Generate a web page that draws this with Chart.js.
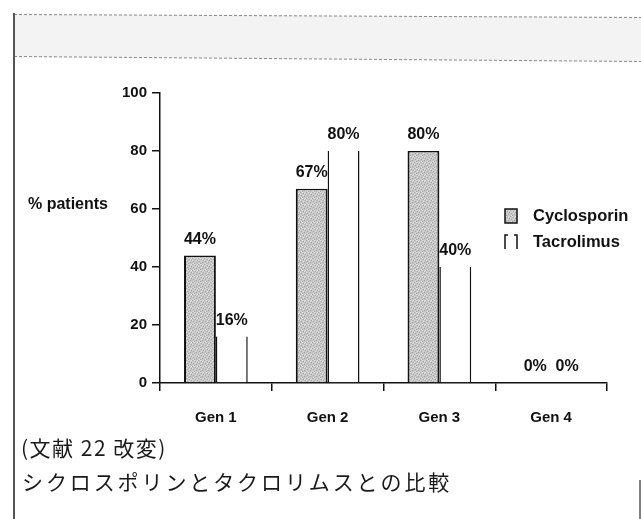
<!DOCTYPE html>
<html>
<head>
<meta charset="utf-8">
<script src="https://cdn.jsdelivr.net/npm/chart.js@4/dist/chart.umd.min.js"></script>
<style>
  html, body { margin: 0; padding: 0; background: #ffffff; }
  #wrap { width: 641px; height: 519px; position: relative; }
</style>
</head>
<body>
<div id="wrap"><canvas id="c" width="641" height="519"></canvas></div>
<script>
// ---- data ----
const categories = ['Gen 1', 'Gen 2', 'Gen 3', 'Gen 4'];
const cyclosporin = [44, 67, 80, 0];
const tacrolimus = [16, 80, 40, 0];
const seriesNames = ['Cyclosporin', 'Tacrolimus'];
const yTickValues = [0, 20, 40, 60, 80, 100];
const yAxisLabel = '% patients';
const sourceNote = '(文献 22 改変)';
const caption = 'シクロスポリンとタクロリムスとの比較';

const canvas = document.getElementById('c');
const ctx0 = canvas.getContext('2d');

// stippled grey fill like the scanned original
function makeStipple(ctx) {
  const c = document.createElement('canvas');
  c.width = 6; c.height = 6;
  const p = c.getContext('2d');
  p.fillStyle = '#c6c6c6';
  p.fillRect(0, 0, 6, 6);
  const dark = [[0,0],[3,1],[1,3],[4,4],[2,5],[5,2]];
  const light = [[2,0],[5,0],[0,2],[3,3],[1,5],[4,1]];
  p.fillStyle = '#a2a2a2';
  dark.forEach(([x, y]) => p.fillRect(x, y, 1, 1));
  p.fillStyle = '#e4e4e4';
  light.forEach(([x, y]) => p.fillRect(x, y, 1, 1));
  return ctx.createPattern(c, 'repeat');
}
const stipple = makeStipple(ctx0);

const FAM = "'Liberation Sans', Arial, Helvetica, sans-serif";
Chart.defaults.font.family = FAM;
Chart.defaults.color = '#111';

const INK = '#111';

const extras = {
  id: 'extras',
  beforeDraw(chart) {
    const ctx = chart.ctx;
    ctx.save();
    // header band (scanned, illegible)
    ctx.fillStyle = '#f3f3f3';
    ctx.beginPath();
    ctx.moveTo(14, 14); ctx.lineTo(641, 17); ctx.lineTo(641, 62); ctx.lineTo(14, 57);
    ctx.closePath(); ctx.fill();
    ctx.strokeStyle = '#8a8a8a';
    ctx.lineWidth = 1;
    ctx.setLineDash([3, 2]);
    ctx.beginPath(); ctx.moveTo(14, 14.5); ctx.lineTo(641, 17.5); ctx.stroke();
    ctx.beginPath(); ctx.moveTo(14, 56.5); ctx.lineTo(641, 61.5); ctx.stroke();
    ctx.setLineDash([]);
    // frame lines
    ctx.strokeStyle = '#555';
    ctx.lineWidth = 2;
    ctx.beginPath(); ctx.moveTo(14, 13); ctx.lineTo(14, 519); ctx.stroke();
    ctx.lineWidth = 1.5;
    ctx.beginPath(); ctx.moveTo(640, 480); ctx.lineTo(640, 519); ctx.stroke();
    ctx.restore();
  },
  afterDatasetsDraw(chart) {
    const ctx = chart.ctx;
    ctx.save();
    // value labels
    ctx.font = "bold 16px " + FAM;
    ctx.fillStyle = INK;
    ctx.textAlign = 'center';
    ctx.textBaseline = 'middle';
    chart.data.datasets.forEach((ds, di) => {
      const meta = chart.getDatasetMeta(di);
      meta.data.forEach((el, i) => {
        ctx.fillText(ds.data[i] + '%', el.x, el.y - 16);
      });
    });

    // y axis label
    ctx.textAlign = 'left';
    ctx.font = "bold 16px " + FAM;
    ctx.fillText(yAxisLabel, 28, 205);

    // legend
    const lx = 505, rows = [216, 242];
    chart.data.datasets.forEach((ds, di) => {
      const y = rows[di];
      if (di === 0) {
        ctx.fillStyle = stipple;
        ctx.fillRect(lx, y - 7, 12, 14);
        ctx.strokeStyle = INK; ctx.lineWidth = 1.5;
        ctx.strokeRect(lx, y - 7, 12, 14);
      } else {
        ctx.strokeStyle = INK; ctx.lineWidth = 1.5;
        ctx.beginPath();
        ctx.moveTo(lx + 3, y - 7); ctx.lineTo(lx, y - 7); ctx.lineTo(lx, y + 7);
        ctx.moveTo(lx + 9, y - 7); ctx.lineTo(lx + 12, y - 7); ctx.lineTo(lx + 12, y + 7);
        ctx.stroke();
      }
      ctx.fillStyle = INK;
      ctx.font = "bold 16.5px " + FAM;
      ctx.textAlign = 'left';
      ctx.textBaseline = 'middle';
      ctx.fillText(ds.label, 533, y);
    });

    // notes beneath
    ctx.font = "21px 'Noto Sans CJK JP', sans-serif";
    ctx.fillStyle = '#1a1a1a';
    ctx.textBaseline = 'middle';
    if ('letterSpacing' in ctx) ctx.letterSpacing = '1.5px';
    ctx.fillText(sourceNote, 21, 448);
    if ('letterSpacing' in ctx) ctx.letterSpacing = '2.9px';
    ctx.fillText(caption, 22, 482);
    ctx.restore();
  }
};

new Chart(canvas, {
  type: 'bar',
  data: {
    labels: categories,
    datasets: [
      {
        label: seriesNames[0],
        data: cyclosporin,
        backgroundColor: stipple,
        borderColor: INK,
        borderWidth: { left: 2, right: 2, top: 1.5, bottom: 0 },
        borderSkipped: false,
        categoryPercentage: 0.57,
        barPercentage: 1.0
      },
      {
        label: seriesNames[1],
        data: tacrolimus,
        backgroundColor: '#ffffff',
        borderColor: INK,
        borderWidth: { left: 1.5, right: 1.5, top: 0, bottom: 0 },
        borderSkipped: false,
        categoryPercentage: 0.57,
        barPercentage: 1.0
      }
    ]
  },
  options: {
    responsive: false,
    animation: false,
    events: [],
    layout: { padding: { left: 0, right: 34, top: 93, bottom: 0 } },
    plugins: { legend: { display: false }, tooltip: { enabled: false }, title: { display: false } },
    scales: {
      x: {
        afterFit(s) { s.height = 136; },
        grid: { display: true, drawOnChartArea: false, drawTicks: true, tickLength: 8, color: INK, lineWidth: 1.5, offset: true },
        border: { display: true, color: INK, width: 1.5 },
        ticks: { padding: 18, color: INK, font: { size: 15, weight: 'bold' } }
      },
      y: {
        min: 0,
        max: 100,
        afterFit(s) { s.width = 160; },
        afterBuildTicks(s) { s.ticks = yTickValues.map(v => ({ value: v })); },
        grid: { display: true, drawOnChartArea: false, drawTicks: true, tickLength: 8, color: INK, lineWidth: 1.5 },
        border: { display: true, color: INK, width: 1.5 },
        ticks: { padding: 5, color: INK, font: { size: 15, weight: 'bold' } }
      }
    }
  },
  plugins: [extras]
});
</script>
</body>
</html>
